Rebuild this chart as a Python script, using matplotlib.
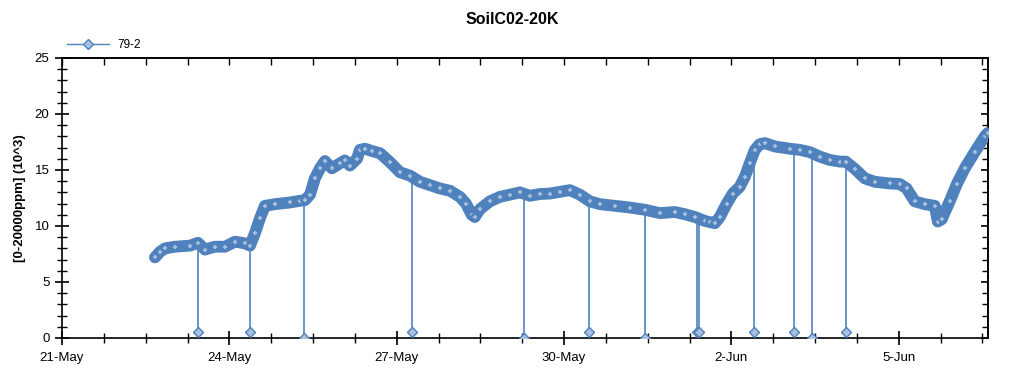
import datetime as dt
import numpy as np
import matplotlib
matplotlib.use("Agg")
import matplotlib.pyplot as plt
from matplotlib.ticker import FixedLocator, MultipleLocator, FuncFormatter, NullFormatter
from matplotlib.lines import Line2D

plt.rcParams['font.family'] = ['Liberation Sans', 'DejaVu Sans']

START = dt.datetime(2019, 5, 21)
title = "SoilC02-20K"
ylabel = "[0-20000ppm] (10^3)"
series_name = "79-2"

# elapsed hours since 21-May 00:00 and readings (10^3 ppm)
hours = [40.0, 42.2, 44.3, 48.6, 55.1, 58.5, 61.5, 65.8, 70.1, 74.4, 78.7, 80.9,
         83.0, 85.2, 87.3, 91.6, 98.1, 102.4, 104.5, 106.7, 108.8, 111.0, 113.1,
         116.1, 119.6, 121.7, 123.9, 126.9, 128.2, 130.3, 133.3, 136.8, 141.1,
         145.4, 149.7, 154.0, 158.3, 162.6, 166.9, 171.2, 173.8, 176.3, 177.6,
         179.8, 184.1, 188.4, 192.7, 197.0, 201.3, 205.6, 209.9, 214.2, 218.5,
         222.8, 227.1, 231.4, 237.9, 244.3, 250.8, 257.2, 263.7, 268.0, 272.3,
         276.6, 278.7, 280.9, 283.0, 286.0, 288.6, 291.6, 293.8, 295.9, 298.1,
         300.2, 302.4, 306.7, 313.1, 317.4, 321.7, 326.0, 330.3, 334.6, 337.2,
         341.1, 345.4, 349.7, 356.1, 360.4, 363.4, 366.9, 371.2, 375.5, 376.8,
         378.5, 381.9, 385.0, 388.4, 392.7, 397.0, 398.3]
values = [7.2, 7.7, 8.0, 8.15, 8.25, 8.5, 7.9, 8.15, 8.15, 8.6, 8.45, 8.25,
          9.35, 10.7, 11.8, 11.95, 12.1, 12.25, 12.3, 12.8, 14.25, 15.15, 15.8,
          15.15, 15.6, 15.85, 15.4, 16.0, 16.8, 16.9, 16.7, 16.5, 15.7,
          14.8, 14.5, 13.95, 13.65, 13.35, 13.15, 12.6, 12.0, 11.0, 10.8,
          11.5, 12.2, 12.6, 12.8, 13.0, 12.7, 12.85, 12.9, 13.05, 13.2,
          12.8, 12.2, 11.95, 11.8, 11.65, 11.45, 11.15, 11.25, 11.05, 10.8,
          10.45, 10.35, 10.25, 10.8, 12.0, 12.9, 13.5, 14.4, 15.6, 16.8,
          17.3, 17.4, 17.1, 16.9, 16.8, 16.6, 16.2, 15.9, 15.75, 15.75,
          15.1, 14.25, 13.95, 13.8, 13.75, 13.35, 12.2, 11.95, 11.8, 10.4,
          10.6, 12.2, 13.75, 15.15, 16.6, 18.0, 18.3]

# sensor dropouts: elapsed hours and the low reading
drop_hours = [58.5, 80.9, 104.1, 150.5, 198.7, 226.7, 250.8, 273.1, 274.0,
              297.6, 314.8, 322.6, 337.2]
drop_values = [0.5, 0.5, 0.0, 0.5, 0.0, 0.5, 0.0, 0.5, 0.5, 0.5, 0.5, 0.0, 0.5]

BLUE = '#4F81BD'
FACE = '#A9C0DE'

fig = plt.figure(figsize=(10.24, 3.75), dpi=100)
ax = fig.add_axes([62/1024, 1-338/375, (988-62)/1024, (338-58)/375])

d = np.array(hours) / 24.0
v = np.array(values)
dd = np.array(drop_hours) / 24.0
dv = np.array(drop_values)

# dropouts as vertical segments from the band down to the low reading
band_at_drop = np.interp(dd, d, v)
ax.vlines(dd, dv, band_at_drop, color=BLUE, lw=1.2, zorder=2)
ax.plot(dd, dv, linestyle='none', marker='D', ms=5, mfc=FACE, mec=BLUE,
        mew=1.0, zorder=3)

ax.plot(d, v, color=BLUE, lw=8.5, solid_capstyle='round',
        solid_joinstyle='round', zorder=3)
ax.plot(d, v, color=BLUE, lw=1, marker='D', ms=4.5, mfc=FACE, mec=BLUE,
        mew=1.6, zorder=4)

ax.set_xlim(0, 16.6)
ax.set_ylim(0, 25)

major_x = [0, 3, 6, 9, 12, 15]
ax.xaxis.set_major_locator(FixedLocator(major_x))
ax.xaxis.set_minor_locator(MultipleLocator(0.75))


def fmt(x, pos):
    t = START + dt.timedelta(days=float(x))
    return f"{t.day}-{t.strftime('%b')}"


ax.xaxis.set_major_formatter(FuncFormatter(fmt))
ax.yaxis.set_major_locator(MultipleLocator(5))
ax.yaxis.set_minor_locator(MultipleLocator(1))

for s in ax.spines.values():
    s.set_linewidth(1.2)
    s.set_color('black')

ax.tick_params(axis='x', which='major', direction='inout', length=10, width=1.2,
               labelsize=9.5, pad=5)
ax.tick_params(axis='x', which='minor', direction='inout', length=7, width=1.0)
ax.tick_params(axis='y', which='major', direction='inout', length=10, width=1.2,
               labelsize=9.5, pad=4)
ax.tick_params(axis='y', which='minor', direction='inout', length=7, width=1.0)

# top and right: inward ticks only
top = ax.secondary_xaxis('top')
top.xaxis.set_major_locator(MultipleLocator(0.75))
top.xaxis.set_major_formatter(NullFormatter())
top.tick_params(direction='in', length=5, width=1.0)
top.spines['top'].set_linewidth(1.2)
right = ax.secondary_yaxis('right')
right.yaxis.set_major_locator(MultipleLocator(5))
right.yaxis.set_minor_locator(MultipleLocator(1))
right.yaxis.set_major_formatter(NullFormatter())
right.tick_params(which='major', direction='in', length=5, width=1.2)
right.tick_params(which='minor', direction='in', length=4, width=1.0)
right.spines['right'].set_linewidth(1.2)

ax.set_ylabel(ylabel, fontsize=9.5, fontweight='bold', labelpad=6)
fig.text(0.5, 1-19/375, title, ha='center', va='center', fontsize=11.5,
         fontweight='bold')

handle = Line2D([], [], color=BLUE, lw=1, marker='D', ms=5, mfc=FACE, mec=BLUE)
fig.legend([handle], [series_name], loc='center left',
           bbox_to_anchor=(62/1024, 1-45/375), frameon=False, fontsize=8.5,
           handlelength=3.6, handletextpad=0.7, borderaxespad=0)

fig.savefig('out.png', dpi=100)
